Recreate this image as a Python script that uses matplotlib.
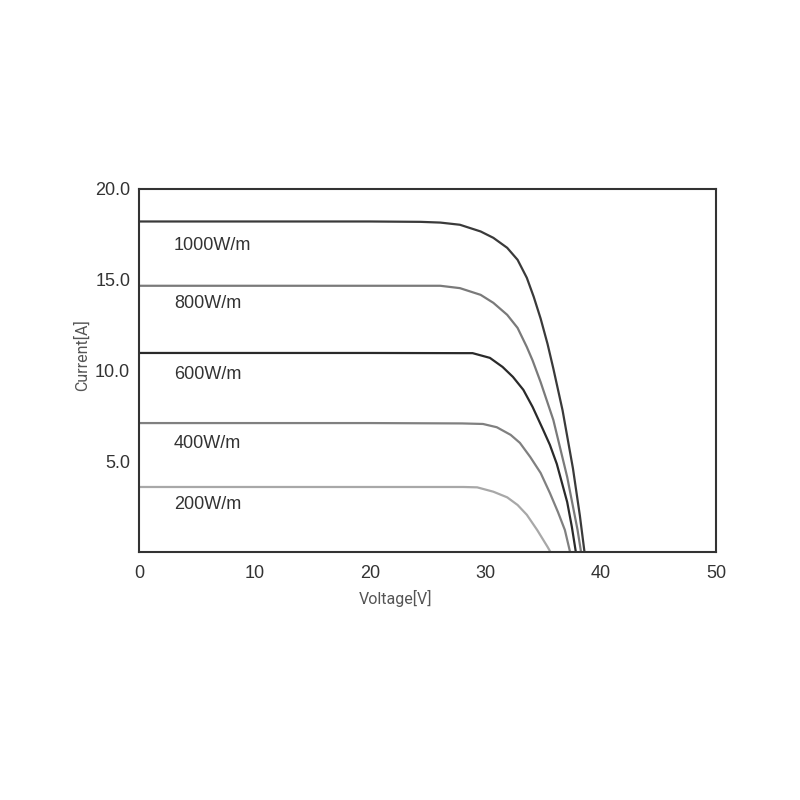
import matplotlib.pyplot as plt

# Curvas I-V (tensão em V, corrente em A)
v_1000 = [0, 10, 20, 24.4, 26.1, 27.8, 29.6, 30.7, 31.9, 32.8, 33.6, 34.2, 34.8, 35.4, 35.9, 36.7, 37.6, 38.2, 38.6]
i_1000 = [18.2, 18.2, 18.2, 18.18, 18.14, 18.02, 17.65, 17.30, 16.75, 16.09, 15.10, 14.05, 12.85, 11.45, 10.1, 7.8, 4.6, 2.0, 0]

v_800 = [0, 10, 20, 24.4, 26.1, 27.8, 29.6, 30.7, 31.9, 32.8, 33.6, 34.1, 34.8, 35.9, 37.1, 38.0, 38.3]
i_800 = [14.66, 14.66, 14.66, 14.66, 14.66, 14.53, 14.16, 13.72, 13.06, 12.34, 11.29, 10.55, 9.35, 7.27, 4.13, 1.21, 0]

v_600 = [0, 10, 20, 27.8, 28.9, 30.4, 31.5, 32.4, 33.3, 34.1, 35.0, 35.6, 36.2, 37.1, 37.5, 37.85]
i_600 = [10.96, 10.96, 10.96, 10.95, 10.95, 10.69, 10.19, 9.64, 8.93, 7.99, 6.75, 5.9, 4.85, 2.75, 1.4, 0]

v_400 = [0, 10, 20, 28.0, 29.8, 31.0, 32.2, 33.0, 33.9, 34.8, 35.6, 36.3, 36.9, 37.35]
i_400 = [7.1, 7.1, 7.1, 7.08, 7.05, 6.87, 6.45, 6.01, 5.23, 4.35, 3.25, 2.2, 1.21, 0]

v_200 = [0, 10, 20, 28.1, 29.3, 30.7, 31.9, 32.8, 33.6, 34.5, 35.4, 35.65]
i_200 = [3.58, 3.58, 3.58, 3.58, 3.56, 3.32, 3.01, 2.59, 2.05, 1.21, 0.28, 0]

labels = ['1000W/m', '800W/m', '600W/m', '400W/m', '200W/m']
label_y = [16.9, 13.7, 9.8, 6.0, 2.6]
x_ticks = [0, 10, 20, 30, 40, 50]
y_ticks = [5.0, 10.0, 15.0, 20.0]

curves = [(v_1000, i_1000, '#3a3a3a'),
          (v_800, i_800, '#7a7a7a'),
          (v_600, i_600, '#2a2a2a'),
          (v_400, i_400, '#808080'),
          (v_200, i_200, '#a8a8a8')]

fig = plt.figure(figsize=(8, 8), dpi=100)
ax = fig.add_axes([0.174, 0.31, 0.721, 0.454])

for v, i, c in curves:
    ax.plot(v, i, color=c, linewidth=1.6, solid_joinstyle='round')

for txt, y in zip(labels, label_y):
    ax.text(3, y, txt, fontsize=13, color='#333333', family='Liberation Sans', va='center', ha='left')

ax.set_xlim(0, 50)
ax.set_ylim(0, 20)
ax.set_xticks(x_ticks)
ax.set_xticklabels([str(x) for x in x_ticks], fontsize=13, color='#333333', family='Liberation Sans')
ax.set_yticks(y_ticks)
ax.set_yticklabels([f'{y:.1f}' for y in y_ticks], fontsize=13, color='#333333', family='Liberation Sans')
ax.tick_params(axis='x', length=0, pad=9)
ax.tick_params(axis='y', length=0, pad=6.5)

for s in ax.spines.values():
    s.set_color('#333333')
    s.set_linewidth(1.5)

ax.set_xlabel('Voltage[V]', fontsize=11.5, color='#555555', family='Roboto')
ax.set_ylabel('Current[A]', fontsize=11.5, color='#555555', family='Roboto')
ax.xaxis.set_label_coords(0.444, -0.105)
ax.yaxis.set_label_coords(-0.085, 0.543)

fig.savefig('out.png', dpi=100)
